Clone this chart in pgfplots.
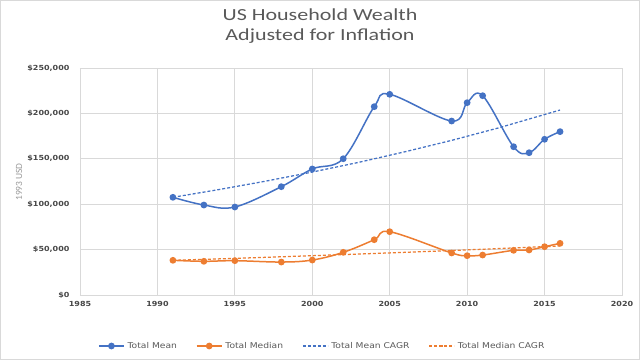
\documentclass[border=0pt]{standalone}
\usepackage{fontspec}
\usepackage{pgfplots}
\pgfplotsset{compat=1.18}
\setmainfont{DejaVu Sans}
\newfontfamily\titlefont[FakeStretch=1.3]{Carlito}
\newfontfamily\tickfont[FakeStretch=1.15]{DejaVu Sans}
\newfontfamily\legfont[FakeStretch=1.15]{DejaVu Sans}
\newfontfamily\labfont{Carlito}
\definecolor{gridc}{HTML}{D9D9D9}
\definecolor{txt}{HTML}{595959}
\definecolor{tick}{HTML}{474747}
\definecolor{lab}{HTML}{9A9A9A}
\definecolor{cblue}{HTML}{4472C4}
\definecolor{corange}{HTML}{ED7D31}
\begin{document}
\begin{tikzpicture}
\useasboundingbox (-80bp,-65bp) rectangle (560bp,295bp);
\draw[gridc, line width=0.75bp] (-79.6bp,-64.6bp) rectangle (559.6bp,294.6bp);
\node[anchor=base, text=txt, font=\titlefont\fontsize{17}{20}\selectfont] at (240bp,274bp) {US Household Wealth};
\node[anchor=base, text=txt, font=\titlefont\fontsize{17}{20}\selectfont] at (240bp,254.3bp) {Adjusted for Inflation};
\node[rotate=90, text=lab, font=\labfont\fontsize{9.5}{11}\selectfont] at (-61bp,113bp) {1993 USD};
\begin{axis}[
  at={(0,0)}, anchor=south west,
  scale only axis, width=542bp, height=227bp,
  xmin=1985, xmax=2020, ymin=0, ymax=250000,
  scaled y ticks=false, scaled x ticks=false,
  xtick={1985,1990,1995,2000,2005,2010,2015,2020},
  xticklabels={1985,1990,1995,2000,2005,2010,2015,2020},
  ytick={0,50000,100000,150000,200000,250000},
  yticklabels={{\$0},{\$50,000},{\$100,000},{\$150,000},{\$200,000},{\$250,000}},
  grid=major,
  major grid style={draw=gridc, line width=0.75bp},
  axis line style={draw=gridc, line width=0.75bp},
  major tick length=0pt,
  tick style={draw=none},
  ticklabel style={font=\tickfont\bfseries\fontsize{7}{8}\selectfont, text=tick},
  xticklabel style={yshift=-3bp},
  yticklabel style={xshift=-7bp},
  legend columns=4,
  legend style={at={(0.0332,-0.2247)}, anchor=west, draw=none, fill=none, inner sep=0pt,
    font=\legfont\fontsize{8}{9}\selectfont, text=txt,
    nodes={inner sep=0pt},
    /tikz/every odd column/.append style={column sep=3bp},
    /tikz/every even column/.append style={column sep=19bp}},
  legend image code/.code={\draw[mark repeat=2,mark phase=2,#1] plot coordinates {(0bp,0bp) (12.5bp,0bp) (25bp,0bp)};},
]
\addplot[cblue, line width=1.5bp, smooth, tension=0.6, mark=*, mark size=2.6bp, mark options={solid, fill=cblue, draw=cblue}] coordinates {
(1991,107600) (1993,99100) (1995,96900) (1998,119300) (2000,138800) (2002,150100)
(2004,207400) (2005,221000) (2009,191600) (2010,211800) (2011,219500) (2013,163300)
(2014,156700) (2015,171500) (2016,179900)};
\addlegendentry{Total Mean}
\addplot[corange, line width=1.5bp, smooth, tension=0.6, mark=*, mark size=2.6bp, mark options={solid, fill=corange, draw=corange}] coordinates {
(1991,38200) (1993,37100) (1995,37800) (1998,36300) (2000,38500) (2002,47000)
(2004,60900) (2005,69700) (2009,46300) (2010,43300) (2011,44000) (2013,49200)
(2014,49600) (2015,53200) (2016,56900)};
\addlegendentry{Total Median}
\addplot[cblue, line width=1.25bp, dash pattern=on 3bp off 2bp, no marks] coordinates {
(1991,107600) (1994,116200) (1997,125400) (2000,135400) (2003,146100) (2006,157800)
(2009,170300) (2012,183900) (2016,203700)};
\addlegendentry{Total Mean CAGR}
\addplot[corange, line width=1.25bp, dash pattern=on 3bp off 2bp, no marks] coordinates {
(1991,38200) (1994,39800) (1997,41500) (2000,43300) (2003,45100) (2006,47000)
(2009,49000) (2012,51100) (2016,54000)};
\addlegendentry{Total Median CAGR}
\end{axis}
\end{tikzpicture}
\end{document}
